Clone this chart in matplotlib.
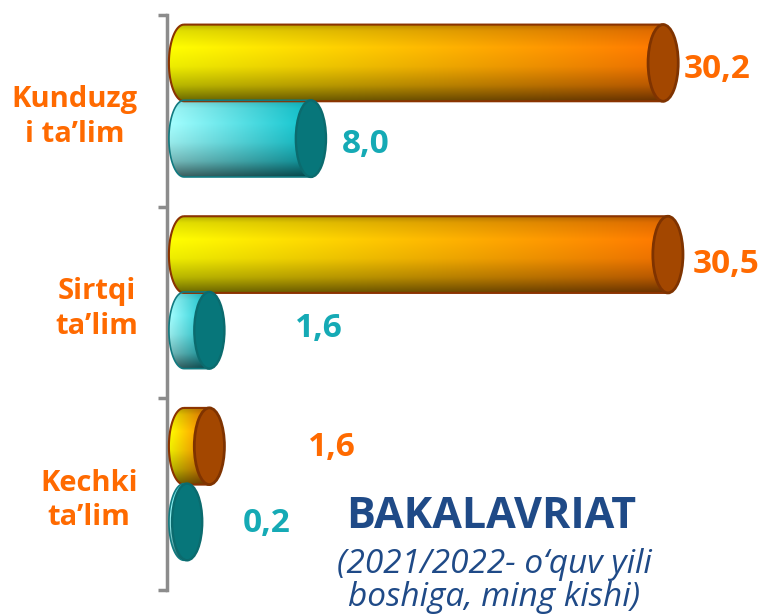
import numpy as np
import matplotlib
matplotlib.use("Agg")
import matplotlib.pyplot as plt
from matplotlib.patches import Ellipse, PathPatch
from matplotlib.path import Path

plt.rcParams['font.family'] = ['Open Sans', 'DejaVu Sans']

# --- Daten ---
kategoriyalar = ["Kunduzg\ni ta’lim", "Sirtqi\nta’lim", "Kechki\nta’lim"]
qiymat_1 = [30.2, 30.5, 1.6]   # orange Zylinder
qiymat_2 = [8.0, 1.6, 0.2]     # tuerkise Zylinder
sarlavha = "BAKALAVRIAT"
izoh = "(2021/2022- o‘quv yili\nboshiga, ming kishi)"

# --- Stil ---
orange_txt = '#FF6A00'
cyan_txt = '#15AAB5'
blau = '#1F4A87'
grau = '#8C8C8C'

bar_h = 0.40
a = 0.95  # halbe Breite der Deckel-Ellipse (Dateneinheiten)
x0 = 0.12  # linker Rand der Zylinder

# Offsets der Zahlen (points) rechts vom Deckel
off_1 = [(3.6, -5), (7, -7), (60, -1)]
off_2 = [(11.5, -4), (51, 1), (29, -1)]

fig = plt.figure(figsize=(7.62, 6.16), dpi=100)
ax = fig.add_axes([167 / 762, 26 / 616, 595 / 762, 575 / 616])
ax.set_xlim(0, 37.5)
ax.set_ylim(3, 0)


def verlauf(nx, ny, links, rechts, schatten_t, schatten_v):
    tx = np.linspace(0, 1, nx)
    ty = np.linspace(0, 1, ny)
    links = np.array(links)
    rechts = np.array(rechts)
    farbe = links[None, :] * (1 - tx[:, None]) + rechts[None, :] * tx[:, None]
    schatten = np.interp(ty, schatten_t, schatten_v)
    img = schatten[:, None, None] * farbe[None, :, :]
    return np.clip(img, 0, 1)


def zylinder(wert, yc, links, rechts, schatten, rand, deckel, deckel_rand, lw):
    # Laenge wird von Mitte hinterer Deckel bis Mitte vorderer Deckel gemessen
    xs = x0 + a
    xe = xs + wert
    top = yc - bar_h / 2
    bot = yc + bar_h / 2
    th = np.linspace(np.pi / 2, 3 * np.pi / 2, 40)
    lx = xs + a * np.cos(th)
    ly = yc - (bar_h / 2) * np.sin(th)
    pts = list(zip(lx, ly)) + [(xe, bot), (xe, top), (lx[0], ly[0])]
    patch = PathPatch(Path(pts), facecolor='none', edgecolor=rand, lw=lw, zorder=3)
    ax.add_patch(patch)
    img = verlauf(200, 60, links, rechts, schatten[0], schatten[1])
    im = ax.imshow(img, extent=(x0, xe, bot, top), origin='upper',
                   aspect='auto', zorder=2, interpolation='bilinear')
    im.set_clip_path(patch)
    ell = Ellipse((xe, yc), 2 * a, bar_h, facecolor=deckel,
                  edgecolor=deckel_rand, lw=lw + 0.5, zorder=4)
    ax.add_patch(ell)
    return xe + a


schatten_o = ([0, 0.08, 0.3, 0.55, 0.8, 1.0], [0.72, 0.88, 1.0, 0.93, 0.72, 0.42])
schatten_c = ([0, 0.1, 0.3, 0.55, 0.8, 1.0], [0.85, 0.96, 1.0, 0.92, 0.72, 0.38])

for i in range(len(kategoriyalar)):
    yc1 = i + 0.25
    yc2 = i + 0.645
    r1 = zylinder(qiymat_1[i], yc1, (1.0, 1.0, 0.0), (1.0, 0.47, 0.0), schatten_o,
                  '#8B3300', '#A34700', '#7F3300', 1.5)
    r2 = zylinder(qiymat_2[i], yc2, (0.65, 1.0, 1.0), (0.05, 0.76, 0.80), schatten_c,
                  '#117A80', '#07767A', '#0B6B6E', 1.2)
    ax.annotate(f"{qiymat_1[i]:.1f}".replace('.', ','), xy=(r1, yc1),
                xytext=off_1[i], textcoords='offset points', ha='left', va='center',
                fontsize=24, fontweight='bold', color=orange_txt, annotation_clip=False)
    ax.annotate(f"{qiymat_2[i]:.1f}".replace('.', ','), xy=(r2, yc2),
                xytext=off_2[i], textcoords='offset points', ha='left', va='center',
                fontsize=24, fontweight='bold', color=cyan_txt, annotation_clip=False)

# Achse links
for s in ['top', 'right', 'bottom']:
    ax.spines[s].set_visible(False)
ax.spines['left'].set_color(grau)
ax.spines['left'].set_linewidth(2.5)
ax.set_yticks([0, 1, 2, 3])
ax.set_yticklabels([])
ax.tick_params(axis='y', which='major', length=6.5, width=2.5, color=grau, direction='out')
ax.set_yticks([0.5, 1.5, 2.5], minor=True)
ax.set_yticklabels(kategoriyalar, minor=True, fontsize=21, fontweight='bold',
                   color=orange_txt, multialignment='center', linespacing=1.25)
ax.tick_params(axis='y', which='minor', length=0, pad=21)
ax.set_xticks([])

fig.text(491 / 762, 1 - 516 / 616, sarlavha, ha='center', va='center',
         fontsize=31, fontweight='bold', color=blau)
fig.text(494 / 762, 1 - 581 / 616, izoh, ha='center', va='center',
         fontsize=24, fontstyle='italic', color=blau, linespacing=0.98)

fig.savefig('out.png', dpi=100)
